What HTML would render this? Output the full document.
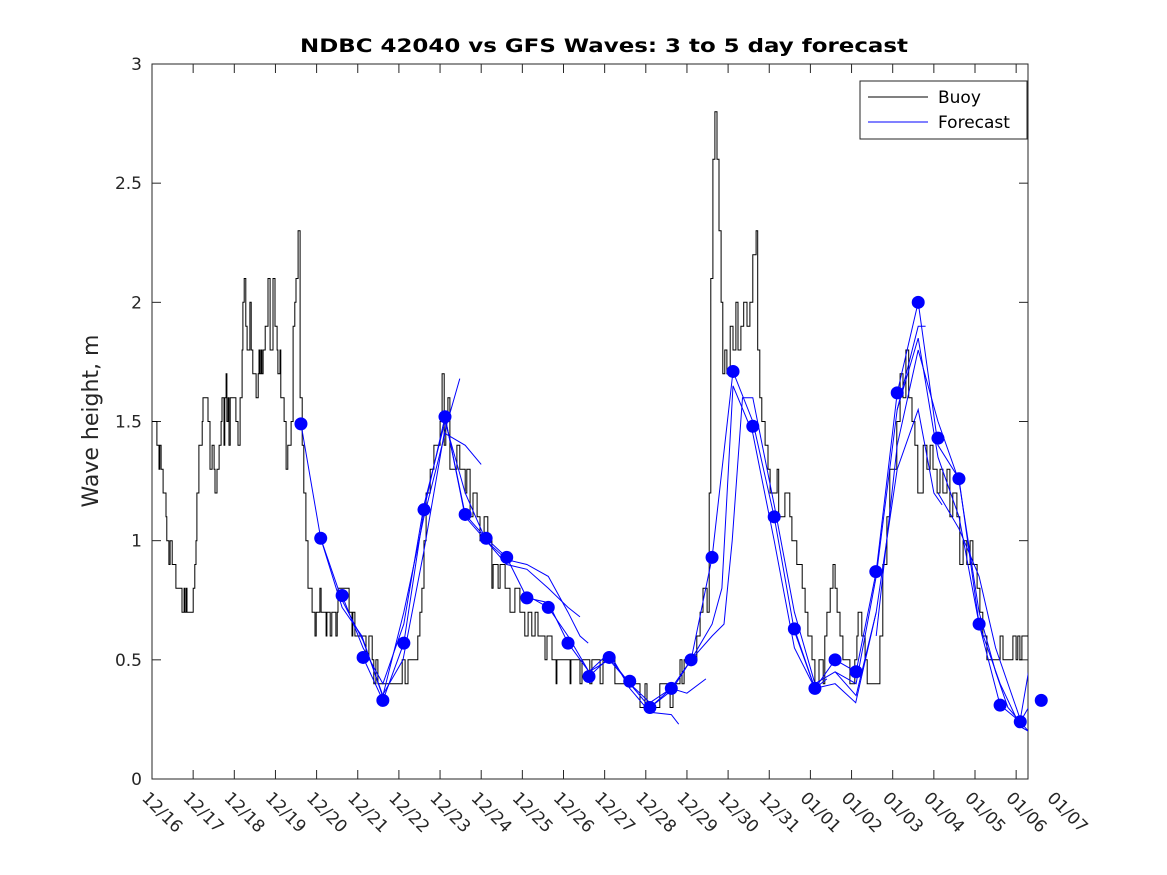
<!DOCTYPE html>
<html><head><meta charset="utf-8">
<style>
html,body{margin:0;padding:0;background:#fff;}
svg{display:block;font-family:"DejaVu Sans","Liberation Sans",sans-serif;}
</style></head>
<body>
<svg id="chart" width="1167" height="875" viewBox="0 0 1167 875" xmlns="http://www.w3.org/2000/svg">
<defs><clipPath id="plotclip"><rect x="152" y="64" width="876" height="715"/></clipPath></defs>
<rect x="0" y="0" width="1167" height="875" fill="#fff"/>
<rect x="152" y="64" width="876" height="715" fill="#fff" stroke="#262626" stroke-width="1"/>
<text x="604" y="52" text-anchor="middle" font-size="19" font-weight="bold" fill="#000" textLength="608" lengthAdjust="spacingAndGlyphs">NDBC 42040 vs GFS Waves: 3 to 5 day forecast</text>
<text transform="translate(98,421) rotate(-90)" text-anchor="middle" font-size="22" fill="#262626">Wave height, m</text>
<g id="axes"></g>
<g id="series" clip-path="url(#plotclip)"></g>
<g id="dots"></g>
<g>
<rect x="860" y="81" width="167" height="58" fill="#fff" stroke="#262626" stroke-width="1"/>
<line x1="868" y1="97" x2="928" y2="97" stroke="#000" stroke-width="1"/>
<text x="938" y="103" font-size="17" fill="#000">Buoy</text>
<line x1="868" y1="122" x2="928" y2="122" stroke="#0000ff" stroke-width="1"/>
<text x="938" y="128" font-size="17" fill="#000">Forecast</text>
</g>
</svg>
<script>
const xTickLabels=["12/16","12/17","12/18","12/19","12/20","12/21","12/22","12/23","12/24","12/25","12/26","12/27","12/28","12/29","12/30","12/31","01/01","01/02","01/03","01/04","01/05","01/06","01/07"];
const yTicks=[0,0.5,1,1.5,2,2.5,3];
const yTickLabels=["0","0.5","1","1.5","2","2.5","3"];
const buoyDays=[0,.12,.17,.19,.22,.27,.34,.36,.41,.44,.49,.58,.73,.78,.80,.83,.85,1.00,1.04,1.07,1.09,1.14,1.22,1.24,1.36,1.41,1.46,1.51,1.53,1.58,1.63,1.68,1.70,1.75,1.77,1.80,1.82,1.85,1.87,1.90,1.97,2.04,2.09,2.14,2.19,2.21,2.24,2.28,2.31,2.38,2.41,2.45,2.53,2.58,2.60,2.62,2.65,2.67,2.70,2.75,2.82,2.87,2.94,2.99,3.04,3.06,3.11,3.13,3.21,3.26,3.30,3.38,3.43,3.47,3.50,3.55,3.60,3.65,3.69,3.74,3.79,3.89,3.96,3.99,4.08,4.11,4.23,4.25,4.33,4.37,4.47,4.50,4.52,4.79,4.86,4.88,4.93,5.20,5.27,5.35,5.39,5.44,5.49,6.08,6.15,6.22,6.46,6.51,6.56,6.61,6.66,6.76,6.85,7.00,7.05,7.10,7.14,7.19,7.24,
7.36,7.41,7.48,7.61,7.65,7.73,7.80,7.90,7.97,8.07,8.16,8.26,8.29,8.41,8.46,8.58,8.70,8.82,8.94,9.06,9.14,9.23,9.31,9.38,9.55,9.60,9.72,9.82,9.84,10.16,10.18,10.40,10.45,10.64,10.69,10.89,10.96,11.25,11.86,11.98,12.03,12.34,12.59,12.66,12.83,12.88,12.93,13.15,13.24,13.32,13.39,13.49,13.54,13.58,13.63,13.68,13.73,13.78,13.83,13.87,13.92,13.97,14.05,14.12,14.19,14.24,14.31,14.38,14.46,14.53,14.60,14.68,14.72,14.77,14.82,14.90,14.97,15.02,15.19,15.23,15.38,15.50,15.55,15.67,15.80,15.87,15.94,16.04,16.11,16.21,16.31,16.35,16.40,16.48,16.55,16.60,16.65,16.72,16.79,16.96,17.08,17.13,17.16,17.25,17.33,17.38,17.69,17.76,17.86,17.93,18.10,18.18,18.25,18.32,18.39,18.47,18.54,18.61,18.74,18.83,18.91,18.98,19.08,19.15,19.22,19.32,19.39,19.46,19.56,19.63,19.71,19.80,19.88,19.95,20.05,20.12,20.19,20.29,20.61,20.68,20.92,21.00,21.04,21.09,21.14,21.29];
const buoyValues=[1.5,1.4,1.3,1.4,1.3,1.2,1.1,1.0,0.9,1.0,0.9,0.8,0.7,0.8,0.7,0.8,0.7,0.8,0.9,1.0,1.2,1.4,1.5,1.6,1.5,1.3,1.4,1.3,1.2,1.3,1.4,1.5,1.6,1.4,1.6,1.7,1.5,1.6,1.4,1.6,1.6,1.5,1.4,1.6,1.8,2.0,2.1,1.9,1.8,2.0,1.8,1.7,1.6,1.7,1.8,1.7,1.8,1.7,1.8,1.9,2.1,1.8,2.1,1.9,1.8,1.7,1.8,1.6,1.5,1.3,1.4,1.5,1.9,2.0,2.1,2.3,1.6,1.4,1.2,1.0,0.8,0.7,0.6,0.7,0.8,0.7,0.6,0.7,0.6,0.7,0.6,0.7,0.8,0.7,0.6,0.7,0.6,0.5,0.6,0.5,0.4,0.5,0.4,0.5,0.4,0.5,0.6,0.7,0.8,1.0,1.2,1.3,1.4,1.5,1.7,1.4,1.5,1.6,1.3,
1.3,1.4,1.3,1.2,1.3,1.1,1.2,1.1,1.0,1.1,1.0,0.8,0.9,0.8,0.9,0.8,0.7,0.8,0.7,0.6,0.7,0.6,0.7,0.6,0.5,0.6,0.5,0.4,0.5,0.4,0.5,0.4,0.5,0.4,0.5,0.4,0.5,0.4,0.3,0.4,0.3,0.4,0.3,0.4,0.5,0.4,0.5,0.5,0.6,0.7,0.8,0.7,1.2,2.1,2.6,2.8,2.6,2.3,2.0,1.7,1.8,1.7,1.9,1.8,2.0,1.8,1.9,2.0,1.9,2.0,2.2,2.3,1.8,1.6,1.5,1.4,1.3,1.2,1.3,1.1,1.2,1.1,1.0,0.9,0.8,0.7,0.6,0.5,0.4,0.5,0.4,0.6,0.7,0.8,0.9,0.8,0.7,0.6,0.5,0.4,0.5,0.6,0.7,0.6,0.5,0.4,0.6,0.9,1.1,1.3,1.5,1.7,1.6,1.8,1.6,1.5,1.4,1.2,1.4,1.3,1.4,1.3,1.2,1.3,1.2,1.3,1.1,1.2,1.1,0.9,1.0,0.9,1.0,0.9,0.8,0.7,0.6,0.5,0.6,0.5,0.6,0.5,0.6,0.5,0.6,0.6];
const runDays=[
[3.62,4.10,4.62,5.10,5.60,6.10,6.60,7.10,7.48],
[4.10,4.62,5.13,5.61,6.12,6.61,7.12,7.61,8.00],
[4.62,5.13,5.61,6.12,6.61,7.12,7.61,8.12,8.62,9.11,9.63,10.11,10.40],
[5.13,5.61,6.12,6.61,7.12,7.61,8.12,8.62,9.11,9.63,10.11,10.40,10.60],
[7.12,7.61,8.12,8.62,9.11,9.63,10.11,10.62,11.11,11.61,12.10,12.62,12.80],
[9.11,9.63,10.11,10.62,11.11,11.61,12.10,12.62,13.00,13.46],
[10.62,11.11,11.61,12.10,12.62,13.10,13.61,14.12,14.60,15.12,15.61,16.11,16.40],
[12.10,12.62,13.10,13.61,13.85,14.12,14.60,15.12,15.61,16.11,16.60,17.10,17.60],
[13.10,13.61,13.90,14.10,14.35,14.60,15.12,15.61,16.11,16.60,17.11,17.60,18.11,18.62,18.80],
[15.61,16.11,16.60,17.11,17.60,18.11,18.62,19.10,19.61,20.10,20.61,21.10,21.30],
[16.60,17.11,17.60,18.11,18.62,19.00,19.20],
[17.60,18.11,18.62,19.10,19.61,20.10,20.50,20.80,21.30],
[18.11,18.62,19.10,19.61,20.10,20.61,21.10,21.30],
[19.10,19.61,20.10,20.50,21.10,21.30]
];
const runValues=[
[1.49,1.01,0.72,0.60,0.35,0.50,0.95,1.45,1.68],
[1.01,0.75,0.58,0.35,0.70,1.10,1.45,1.40,1.32],
[0.77,0.55,0.40,0.65,1.15,1.50,1.20,1.00,0.90,0.88,0.80,0.72,0.68],
[0.51,0.33,0.57,1.13,1.52,1.10,1.00,0.92,0.90,0.85,0.70,0.60,0.57],
[1.52,1.11,1.01,0.93,0.76,0.74,0.57,0.45,0.53,0.38,0.28,0.27,0.23],
[0.77,0.72,0.60,0.45,0.50,0.40,0.32,0.38,0.36,0.42],
[0.43,0.51,0.40,0.30,0.37,0.50,0.93,1.71,1.50,1.10,0.62,0.38,0.42],
[0.30,0.38,0.50,0.65,0.80,1.65,1.45,1.00,0.55,0.38,0.40,0.32,0.70],
[0.50,0.60,0.65,1.00,1.60,1.60,1.15,0.70,0.40,0.45,0.40,0.85,1.55,1.90,1.90],
[0.63,0.38,0.50,0.45,0.87,1.62,2.00,1.40,1.26,0.65,0.31,0.24,0.30],
[0.45,0.35,0.70,1.30,1.55,1.20,1.15],
[0.60,1.40,1.80,1.50,1.25,0.70,0.45,0.30,0.20],
[1.55,1.85,1.35,1.10,0.65,0.40,0.22,0.20],
[1.20,1.05,0.85,0.55,0.25,0.45]
];
const dotDays=[3.62,4.10,4.62,5.13,5.61,6.12,6.61,7.12,7.61,8.12,8.62,9.11,9.63,10.11,10.62,11.11,11.61,12.10,12.62,13.10,13.61,14.12,14.60,15.12,15.61,16.11,16.60,17.11,17.59,18.11,18.62,19.10,19.61,20.10,20.61,21.10,21.61];
const dotValues=[1.49,1.01,0.77,0.51,0.33,0.57,1.13,1.52,1.11,1.01,0.93,0.76,0.72,0.57,0.43,0.51,0.41,0.30,0.38,0.50,0.93,1.71,1.48,1.10,0.63,0.38,0.50,0.45,0.87,1.62,2.00,1.43,1.26,0.65,0.31,0.24,0.33];

const NS="http://www.w3.org/2000/svg";
const X0=152,X1=1028,Y0=779,Y1=64,PXDAY=41.15;
const xs=d=>X0+PXDAY*d;
const ys=v=>Y0-(Y0-Y1)*v/3;
const axes=document.getElementById('axes');
function mk(tag,attrs,parent){const e=document.createElementNS(NS,tag);for(const k in attrs)e.setAttribute(k,attrs[k]);parent.appendChild(e);return e;}
xTickLabels.forEach((lab,i)=>{
  const x=xs(i);
  if(x<=X1){
    const t1=mk('line',{x1:x,y1:Y0,x2:x,y2:Y0-9,stroke:'#262626'},axes);
    
    
    mk('line',{x1:x,y1:Y1,x2:x,y2:Y1+9,stroke:'#262626'},axes);
  }
  const t=mk('text',{transform:`translate(${x-11},${Y0+20}) rotate(45)`,'font-size':17,fill:'#262626'},axes);
  
  
  t.textContent=lab;
});
yTicks.forEach((v,i)=>{
  const y=ys(v);
  const l=mk('line',{x1:X0,y1:y,x2:X0+9,y2:y,stroke:'#262626'},axes);
  
  
  mk('line',{x1:X1,y1:y,x2:X1-9,y2:y,stroke:'#262626'},axes);
  const t=mk('text',{x:X0-10,y:y+6,'text-anchor':'end','font-size':17,fill:'#262626'},axes);
  
  
  t.textContent=yTickLabels[i];
});
const series=document.getElementById('series');
let d='';
buoyDays.forEach((dd,i)=>{
  const x=xs(dd).toFixed(1), y=ys(buoyValues[i]).toFixed(1);
  if(i===0) d+='M'+x+','+y;
  else d+='L'+x+','+ys(buoyValues[i-1]).toFixed(1)+'L'+x+','+y;
});
const bp=mk('path',{d:d,fill:'none',stroke:'#000','stroke-width':1},series);


runValues.forEach((vals,r)=>{
  const pd=vals.map((v,i)=>(i?'L':'M')+xs(runDays[r][i]).toFixed(1)+','+ys(v).toFixed(1)).join('');
  const p=mk('path',{d:pd,fill:'none',stroke:'#0000ff','stroke-width':1},series);
  
  
});
const dots=document.getElementById('dots');
dotDays.forEach((dd,i)=>{
  const c=mk('circle',{cx:xs(dd),cy:ys(dotValues[i]),r:6.5,fill:'#0000ff'},dots);
  
  
});
</script>
</body></html>
